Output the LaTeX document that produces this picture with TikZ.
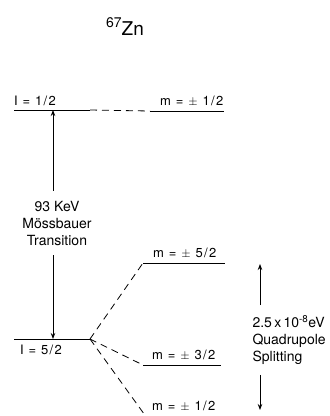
\documentclass[tikz,border=0pt]{standalone}
\usepackage{fontspec}
\setmainfont{TeX Gyre Heros}
\newfontfamily\lblfont[LetterSpace=10]{TeX Gyre Heros}
\usetikzlibrary{arrows.meta,positioning}

\begin{document}
\begin{tikzpicture}[
    x=1pt, y=-1pt,
    font=\fontsize{14}{17}\selectfont,
    level/.style={line width=0.9pt},
    split/.style={dash pattern=on 7pt off 5pt, line width=0.8pt},
    lbl/.style={font=\lblfont\fontsize{13}{15}\selectfont, inner sep=0pt},
    arr/.style={-{Stealth[length=6pt, width=4.5pt]}, line width=0.9pt}
  ]
  \useasboundingbox (0,0) rectangle (330,416);
  \clip (0,0) rectangle (330,416);
  \node (iso) at (125,27) {{\fontsize{14}{16}\selectfont\raisebox{8pt}{67}}\fontsize{19}{21}\selectfont Zn};
  % levels
  \coordinate (exL) at (14,110);  \coordinate (exR) at (90,110);
  \coordinate (mhL) at (150,111); \coordinate (mhR) at (224,111);
  \coordinate (gsL) at (14,339);  \coordinate (gsR) at (90,339);
  \coordinate (m5L) at (143,263); \coordinate (m5R) at (225,263);
  \coordinate (m3L) at (143,365); \coordinate (m3R) at (221,365);
  \coordinate (m1L) at (147,418); \coordinate (m1R) at (224,418);
  \draw[level] (exL) -- (exR);
  \draw[level] (mhL) -- (mhR);
  \draw[level] (gsL) -- (gsR);
  \draw[level] (m5L) -- (m5R);
  \draw[level] (m3L) -- (m3R);
  \draw[level] (m1L) -- (m1R);
  \draw[split] (exR) -- (mhL);
  \draw[split] (gsR) -- (m5L);
  \draw[split] (gsR) -- (m3L);
  \draw[split] (gsR) -- (m1L);
  \node[lbl, above right=4pt and 0pt of exL] (ihalf) {I = 1/2};
  \node[lbl, above right=4pt and 10pt of mhL] (mhalf) {m = $\pm$ 1/2};
  \node[lbl, below right=6pt and 6pt of gsL] (ifive) {I = 5/2};
  \node[lbl, above right=4pt and 10pt of m5L] (mfive) {m = $\pm$ 5/2};
  \node[lbl, above right=4pt and 9pt of m3L] (mthree) {m = $\pm$ 3/2};
  \node[lbl, above right=6pt and 5pt of m1L] (mone) {m = $\pm$ 1/2};
  % transition
  \node[align=center, inner ysep=10pt] (trans) at (57,223) {93 KeV\\Mössbauer\\Transition};
  \coordinate (tx) at (53,0);
  \draw[arr] (trans.north -| tx) -- (exL -| tx);
  \draw[arr] (trans.south -| tx) -- (gsL -| tx);
  % splitting
  \node[align=left, anchor=west, inner ysep=10pt] (quad) at (249,340) {2.5\,x\,10\textsuperscript{-8}eV\\Quadrupole\\Splitting};
  \coordinate (qtop) at (260,264);
  \coordinate (qbot) at (260,410);
  \draw[arr] (quad.north -| qtop) -- (qtop);
  \draw[arr] (quad.south -| qbot) -- (qbot);
\end{tikzpicture}
\end{document}
